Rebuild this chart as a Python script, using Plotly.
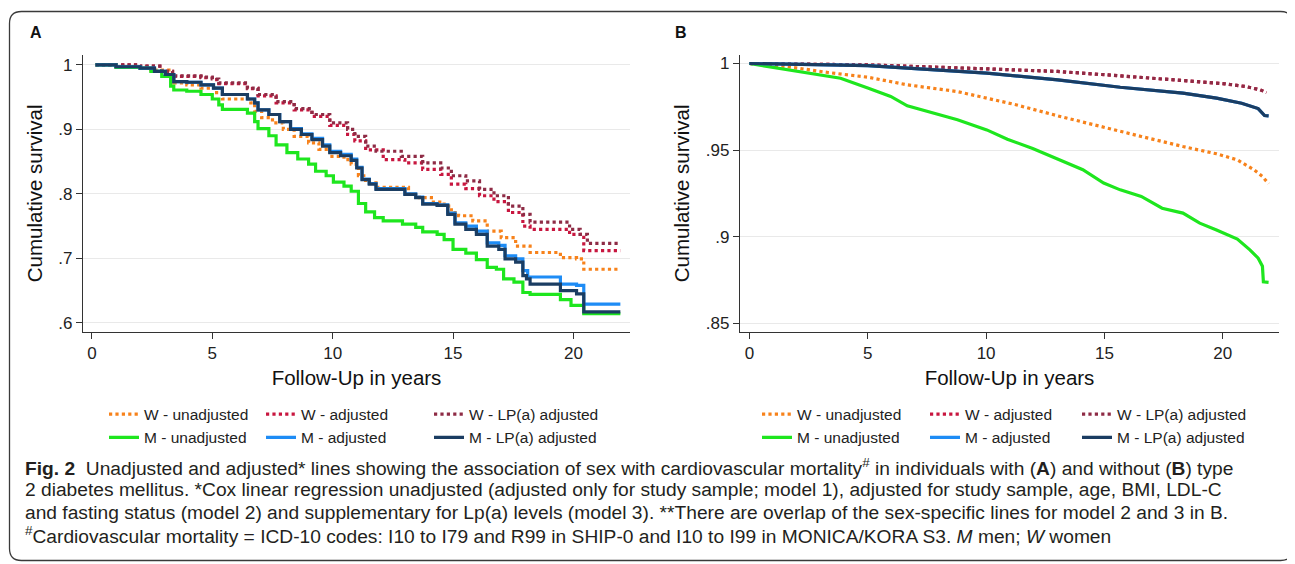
import plotly.graph_objects as go

# The page body adds an 8px margin, so the figure is sized and positioned to compensate.
OFF = 8
W, H = 1295 - OFF, 564 - OFF

# ---------------- Panel A data (with type 2 diabetes) ----------------
A_w_unadj_t = [0.15, 1.0, 2.45, 3.2, 3.4, 3.94, 4.53, 5.1, 5.42, 6.6, 6.76, 7.05, 7.5, 7.95, 8.4, 9.0, 9.43, 9.88,
               10.47, 10.77, 11.07, 11.37, 11.8, 13.15, 13.6, 14.1, 14.63, 14.93, 15.23, 15.82, 16.42, 17.0, 17.6,
               18.2, 19.46, 20.13, 20.43, 21.95]
A_w_unadj_s = [1.0, 0.997, 0.992, 0.979, 0.972, 0.969, 0.964, 0.957, 0.947, 0.941, 0.928, 0.918, 0.910, 0.900,
               0.889, 0.879, 0.869, 0.858, 0.853, 0.846, 0.828, 0.817, 0.810, 0.799, 0.794, 0.787, 0.781, 0.771,
               0.766, 0.758, 0.742, 0.732, 0.719, 0.709, 0.701, 0.699, 0.683, 0.683]

A_w_adj_t = [0.15, 2.0, 2.9, 3.35, 4.53, 5.0, 5.27, 6.46, 6.9, 7.65, 8.4, 9.14, 9.88, 10.62, 10.92, 11.37, 12.1,
             13.0, 13.74, 14.49, 14.93, 15.53, 16.1, 16.7, 17.3, 17.9, 18.2, 19.84, 20.43, 21.95]
A_w_adj_s = [1.0, 0.998, 0.990, 0.982, 0.980, 0.977, 0.971, 0.963, 0.952, 0.941, 0.930, 0.920, 0.906, 0.892,
             0.882, 0.868, 0.853, 0.848, 0.838, 0.830, 0.815, 0.808, 0.797, 0.788, 0.771, 0.750, 0.745, 0.737,
             0.712, 0.712]

A_w_lpa_t = [0.15, 2.0, 2.9, 3.35, 4.53, 5.0, 5.27, 6.46, 6.9, 7.65, 8.4, 9.14, 9.88, 10.62, 10.92, 11.37, 11.8,
             12.85, 13.74, 14.49, 14.93, 15.53, 16.1, 16.7, 17.3, 17.9, 18.2, 19.84, 20.28, 20.58, 21.95]
A_w_lpa_s = [1.0, 0.998, 0.990, 0.983, 0.981, 0.978, 0.972, 0.964, 0.954, 0.943, 0.932, 0.923, 0.910, 0.900,
             0.889, 0.874, 0.866, 0.858, 0.848, 0.840, 0.828, 0.820, 0.807, 0.797, 0.781, 0.768, 0.756, 0.745,
             0.737, 0.723, 0.723]

A_m_unadj_t = [0.15, 1.0, 2.0, 2.45, 2.9, 3.27, 3.4, 3.94, 4.53, 5.0, 5.27, 5.42, 6.46, 6.76, 6.9, 7.35, 7.65, 8.1,
               8.55, 9.0, 9.29, 9.73, 10.03, 10.47, 10.77, 11.07, 11.37, 11.74, 12.1, 12.9, 13.45, 13.74, 14.34,
               14.63, 15.0, 15.53, 15.97, 16.42, 16.8, 17.1, 17.53, 17.9, 18.2, 19.46, 19.9, 20.43, 21.95]
A_m_unadj_s = [1.0, 0.996, 0.995, 0.990, 0.982, 0.967, 0.961, 0.959, 0.954, 0.947, 0.938, 0.931, 0.925, 0.912,
               0.901, 0.890, 0.876, 0.864, 0.854, 0.846, 0.835, 0.828, 0.818, 0.812, 0.804, 0.785, 0.772, 0.763,
               0.758, 0.753, 0.748, 0.741, 0.737, 0.729, 0.714, 0.708, 0.698, 0.686, 0.683, 0.668, 0.663, 0.647,
               0.644, 0.636, 0.627, 0.614, 0.614]

A_m_adj_t = [0.15, 1.0, 2.0, 2.6, 3.05, 3.4, 3.94, 4.53, 5.05, 5.42, 6.46, 6.76, 6.9, 7.35, 7.8, 8.25, 8.7, 9.14,
             9.58, 9.88, 10.33, 10.77, 11.0, 11.22, 11.52, 11.8, 13.0, 13.45, 13.74, 14.34, 14.78, 15.08, 15.53,
             15.97, 16.42, 16.9, 17.16, 17.6, 17.9, 18.1, 19.46, 20.13, 20.43, 21.95]
A_m_adj_s = [1.0, 0.997, 0.995, 0.990, 0.985, 0.974, 0.973, 0.969, 0.964, 0.954, 0.947, 0.941, 0.930, 0.923,
             0.912, 0.901, 0.893, 0.886, 0.876, 0.866, 0.861, 0.854, 0.841, 0.823, 0.816, 0.808, 0.800, 0.795,
             0.785, 0.783, 0.770, 0.755, 0.750, 0.742, 0.724, 0.720, 0.704, 0.699, 0.681, 0.671, 0.660, 0.658,
             0.629, 0.629]

A_m_lpa_t = [0.15, 1.0, 2.0, 2.6, 3.05, 3.4, 3.94, 4.53, 5.05, 5.42, 6.46, 6.76, 6.9, 7.35, 7.8, 8.25, 8.7, 9.14,
             9.58, 9.88, 10.33, 10.77, 11.0, 11.22, 11.52, 11.8, 13.0, 13.45, 13.74, 14.34, 14.78, 15.08, 15.53,
             15.97, 16.42, 16.9, 17.16, 17.6, 17.9, 18.05, 18.2, 19.46, 20.13, 20.43, 21.95]
A_m_lpa_s = [1.0, 0.997, 0.995, 0.990, 0.985, 0.974, 0.973, 0.969, 0.964, 0.954, 0.947, 0.941, 0.930, 0.923,
             0.912, 0.900, 0.892, 0.884, 0.874, 0.864, 0.859, 0.852, 0.840, 0.822, 0.815, 0.807, 0.799, 0.794,
             0.784, 0.782, 0.768, 0.753, 0.745, 0.737, 0.719, 0.714, 0.699, 0.694, 0.673, 0.668, 0.660, 0.650,
             0.645, 0.617, 0.617]

# ---------------- Panel B data (without type 2 diabetes) ----------------
B_w_unadj_t = [0, 1.55, 3.32, 5.0, 6.67, 8.79, 10.03, 11.26, 13.03, 14.79, 16.56, 18.32, 19.74, 20.62, 21.32,
               21.68, 21.94]
B_w_unadj_s = [1.0, 0.9983, 0.9948, 0.9921, 0.9877, 0.9838, 0.9800, 0.9762, 0.9698, 0.9637, 0.9579, 0.9521,
               0.9479, 0.9444, 0.9387, 0.9348, 0.9306]

B_w_adj_t = [0, 5.0, 10.03, 13.03, 15.67, 18.32, 20.1, 20.97, 21.59, 21.85]
B_w_adj_s = [1.0, 0.9992, 0.9969, 0.9954, 0.9929, 0.9900, 0.9883, 0.9867, 0.9848, 0.9833]

B_w_lpa_t = [0, 5.0, 10.03, 13.03, 15.67, 18.32, 20.1, 20.97, 21.59, 21.85]
B_w_lpa_s = [1.0, 0.9992, 0.9969, 0.9954, 0.9929, 0.9900, 0.9883, 0.9867, 0.9848, 0.9833]

B_m_unadj_t = [0, 2.44, 3.85, 5.0, 5.97, 6.67, 7.73, 8.79, 10.03, 10.9, 11.97, 13.03, 14.09, 14.97, 15.67, 16.56,
               17.44, 18.32, 19.03, 19.74, 20.62, 21.15, 21.5, 21.68, 21.72, 21.94]
B_m_unadj_s = [1.0, 0.9948, 0.9915, 0.9858, 0.9810, 0.9756, 0.9717, 0.9675, 0.9617, 0.9563, 0.9510, 0.9448,
               0.9387, 0.9310, 0.9271, 0.9233, 0.9165, 0.9137, 0.9079, 0.9040, 0.8987, 0.8925, 0.8877, 0.8830,
               0.8740, 0.8737]

B_m_adj_t = [0, 5.0, 10.03, 13.03, 15.67, 18.32, 19.74, 20.8, 21.5, 21.77, 21.94]
B_m_adj_s = [1.0, 0.9988, 0.9944, 0.9906, 0.9863, 0.9829, 0.9800, 0.9771, 0.9740, 0.9700, 0.9698]

B_m_lpa_t = [0, 5.0, 10.03, 13.03, 15.67, 18.32, 19.74, 20.8, 21.5, 21.77, 21.94]
B_m_lpa_s = [1.0, 0.9988, 0.9944, 0.9906, 0.9863, 0.9829, 0.9800, 0.9771, 0.9740, 0.9700, 0.9698]

# ---------------- labels ----------------
series_names = ["W - unadjusted", "W - adjusted", "W - LP(a) adjusted",
                "M - unadjusted", "M - adjusted", "M - LP(a) adjusted"]
A_yticks = [0.6, 0.7, 0.8, 0.9, 1.0]
A_yticktext = [".6", ".7", ".8", ".9", "1"]
B_yticks = [0.85, 0.9, 0.95, 1.0]
B_yticktext = [".85", ".9", ".95", "1"]
x_ticks = [0, 5, 10, 15, 20]

colors = ["#f7821b", "#c8163f", "#8e2b45", "#1ee61e", "#1e8cf5", "#1b3d62"]
dashes = ["dot", "dot", "dot", "solid", "solid", "solid"]


def px_x(p):
    return (p - OFF) / W


def px_y(p):
    return 1 - (p - OFF) / H


fig = go.Figure()

A_series = [(A_w_unadj_t, A_w_unadj_s), (A_w_adj_t, A_w_adj_s), (A_w_lpa_t, A_w_lpa_s),
            (A_m_unadj_t, A_m_unadj_s), (A_m_adj_t, A_m_adj_s), (A_m_lpa_t, A_m_lpa_s)]
B_series = [(B_w_unadj_t, B_w_unadj_s), (B_w_adj_t, B_w_adj_s), (B_w_lpa_t, B_w_lpa_s),
            (B_m_unadj_t, B_m_unadj_s), (B_m_adj_t, B_m_adj_s), (B_m_lpa_t, B_m_lpa_s)]

A_legends = ["legend", "legend2", "legend3"]
B_legends = ["legend4", "legend5", "legend6"]

for i, (t, s) in enumerate(A_series):
    fig.add_trace(go.Scatter(
        x=t, y=s, mode="lines", name=series_names[i], line_shape="hv",
        line=dict(color=colors[i], width=3.2, dash=dashes[i]),
        xaxis="x", yaxis="y", legend=A_legends[i % 3]))

for i, (t, s) in enumerate(B_series):
    fig.add_trace(go.Scatter(
        x=t, y=s, mode="lines", name=series_names[i],
        line=dict(color=colors[i], width=3.2, dash=dashes[i]),
        xaxis="x2", yaxis="y2", legend=B_legends[i % 3]))

FONT = "Liberation Sans, Arial, sans-serif"
tick_font = dict(family=FONT, size=17, color="#222")
title_font = dict(family=FONT, size=20.5, color="#111")

common_x = dict(showline=True, linecolor="#333", linewidth=1.3, ticks="outside", ticklen=6, tickwidth=1.2,
                tickcolor="#333", showgrid=False, zeroline=False, tickvals=x_ticks, tickfont=tick_font,
                title=dict(text="Follow-Up in years", font=title_font, standoff=8))
common_y = dict(showline=True, linecolor="#333", linewidth=1.3, ticks="outside", ticklen=6, tickwidth=1.2,
                tickcolor="#333", showgrid=True, gridcolor="#e9e9e9", gridwidth=1.2, zeroline=False,
                tickfont=tick_font, title=dict(text="Cumulative survival", font=title_font, standoff=10))

ydom = [px_y(333), px_y(55)]

fig.update_layout(
    width=W, height=H, margin=dict(l=0, r=0, t=0, b=0),
    paper_bgcolor="white", plot_bgcolor="white",
    xaxis=dict(domain=[px_x(83), px_x(630)], range=[-0.37, 22.35], anchor="y", **common_x),
    yaxis=dict(domain=ydom, range=[0.586, 1.0155], anchor="x", tickvals=A_yticks, ticktext=A_yticktext,
               **common_y),
    xaxis2=dict(domain=[px_x(740), px_x(1279)], range=[-0.40, 22.38], anchor="y2", **common_x),
    yaxis2=dict(domain=ydom, range=[0.8452, 1.005], anchor="x2", tickvals=B_yticks, ticktext=B_yticktext,
                **common_y),
    showlegend=True,
)

leg_font = dict(family=FONT, size=15.5, color="#222")
legend_x_px = {"legend": 104, "legend2": 261, "legend3": 429,
               "legend4": 757, "legend5": 925, "legend6": 1077}
for key, xp in legend_x_px.items():
    fig.update_layout({key: dict(x=px_x(xp), y=px_y(399), xanchor="left", yanchor="top",
                                 orientation="v", bgcolor="rgba(0,0,0,0)", font=leg_font,
                                 tracegroupgap=0, itemclick=False, itemdoubleclick=False)})

# panel letters
for letter, xp in [("A", 36), ("B", 681)]:
    fig.add_annotation(x=px_x(xp), y=px_y(33), xref="paper", yref="paper", text=f"<b>{letter}</b>",
                       showarrow=False, xanchor="center", yanchor="middle",
                       font=dict(family=FONT, size=16, color="#111"))

# caption
cap_font = dict(family=FONT, size=19.2, color="#231f20")
caption_lines = [
    "<b>Fig. 2</b>  Unadjusted and adjusted* lines showing the association of sex with cardiovascular mortality<sup>#</sup> in individuals with (<b>A</b>) and without (<b>B</b>) type",
    "2 diabetes mellitus. *Cox linear regression unadjusted (adjusted only for study sample; model 1), adjusted for study sample, age, BMI, LDL-C",
    "and fasting status (model 2) and supplementary for Lp(a) levels (model 3). **There are overlap of the sex-specific lines for model 2 and 3 in B.",
    "<sup>#</sup>Cardiovascular mortality = ICD-10 codes: I10 to I79 and R99 in SHIP-0 and I10 to I99 in MONICA/KORA S3. <i>M</i> men; <i>W</i> women",
]
for k, line in enumerate(caption_lines):
    fig.add_annotation(x=px_x(23), y=px_y(469 + 22.5 * k), xref="paper", yref="paper", text=line,
                       showarrow=False, xanchor="left", yanchor="middle", align="left", font=cap_font)

# outer rounded frame
r = 12
x0, x1, y0, y1 = 9.5, 1292.5, 11.5, 562.5
path = (f"M {px_x(x0 + r)},{px_y(y0)} L {px_x(x1 - r)},{px_y(y0)} Q {px_x(x1)},{px_y(y0)} {px_x(x1)},{px_y(y0 + r)} "
        f"L {px_x(x1)},{px_y(y1 - r)} Q {px_x(x1)},{px_y(y1)} {px_x(x1 - r)},{px_y(y1)} "
        f"L {px_x(x0 + r)},{px_y(y1)} Q {px_x(x0)},{px_y(y1)} {px_x(x0)},{px_y(y1 - r)} "
        f"L {px_x(x0)},{px_y(y0 + r)} Q {px_x(x0)},{px_y(y0)} {px_x(x0 + r)},{px_y(y0)} Z")
fig.add_shape(type="path", path=path, xref="paper", yref="paper", line=dict(color="#3a3a3a", width=1.3),
              fillcolor="rgba(0,0,0,0)", layer="below")

fig.write_html("out.html")
